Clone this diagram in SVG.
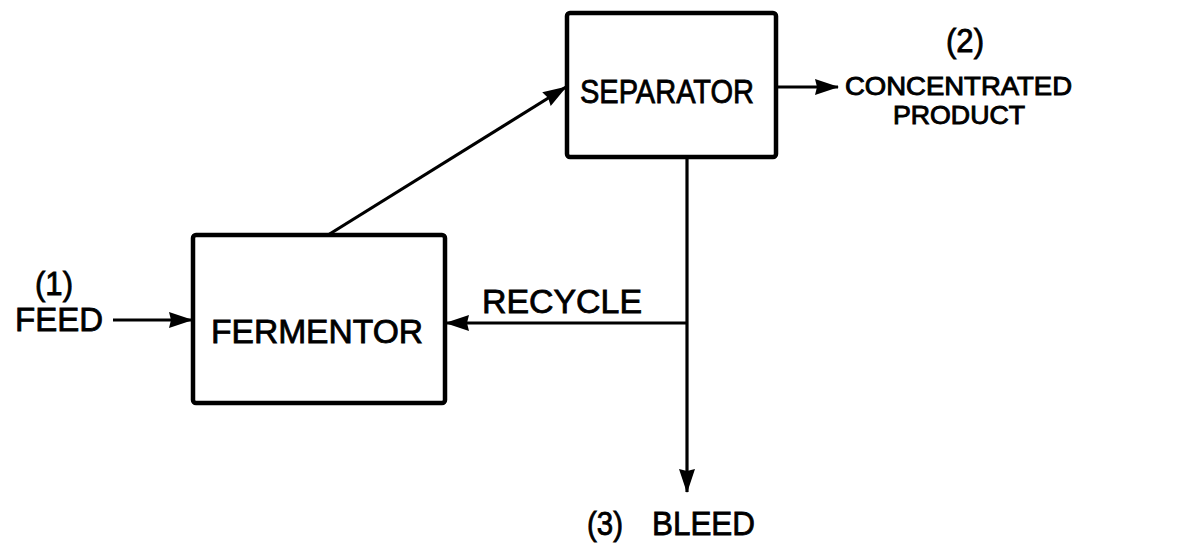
<svg xmlns="http://www.w3.org/2000/svg" width="1182" height="547" viewBox="0 0 1182 547">
<style>
.box{fill:#fff;stroke:#000;stroke-width:4.5;stroke-linejoin:round}
.ln{fill:none;stroke:#000;stroke-width:3.2}
text{font-family:"Liberation Sans",Arial,sans-serif;font-size:33px;fill:#000;stroke:#000;stroke-width:0.8}
.sm{font-size:25px;stroke-width:0.9}
</style>
<defs>
<marker id="ah" markerUnits="userSpaceOnUse" markerWidth="26" markerHeight="20" refX="23" refY="10" orient="auto">
<path d="M0,2 L24,10 L0,18 L2,10 Z" fill="#000"/>
</marker>
</defs>
<rect width="1182" height="547" fill="#fff"/>
<g id="connectors">
<line class="ln" x1="113" y1="320" x2="192" y2="320" marker-end="url(#ah)"/>
<line class="ln" x1="328" y1="235" x2="566" y2="87" marker-end="url(#ah)"/>
<line class="ln" x1="776" y1="87" x2="838" y2="87" marker-end="url(#ah)"/>
<line class="ln" x1="687" y1="157" x2="687" y2="492" marker-end="url(#ah)"/>
<line class="ln" x1="687" y1="323" x2="446" y2="323" marker-end="url(#ah)"/>
</g>
<g id="fermentor">
<rect class="box" x="193" y="235" width="252" height="168" rx="3"/>
<text x="211" y="343" textLength="212" lengthAdjust="spacingAndGlyphs">FERMENTOR</text>
</g>
<g id="separator">
<rect class="box" x="567" y="13" width="209" height="144" rx="3"/>
<text x="580" y="103" textLength="174" lengthAdjust="spacingAndGlyphs">SEPARATOR</text>
</g>
<g id="feed">
<text x="35" y="295" textLength="38" lengthAdjust="spacingAndGlyphs">(1)</text>
<text x="15" y="331" textLength="88" lengthAdjust="spacingAndGlyphs">FEED</text>
</g>
<g id="product">
<text x="946" y="52" textLength="38" lengthAdjust="spacingAndGlyphs">(2)</text>
<text class="sm" x="845" y="95" textLength="227" lengthAdjust="spacingAndGlyphs">CONCENTRATED</text>
<text class="sm" x="893" y="124" textLength="132" lengthAdjust="spacingAndGlyphs">PRODUCT</text>
</g>
<g id="recycle-label">
<text x="482" y="313" textLength="160" lengthAdjust="spacingAndGlyphs">RECYCLE</text>
</g>
<g id="bleed">
<text x="587" y="535" textLength="36" lengthAdjust="spacingAndGlyphs">(3)</text>
<text x="652" y="535" textLength="103" lengthAdjust="spacingAndGlyphs">BLEED</text>
</g>
</svg>
